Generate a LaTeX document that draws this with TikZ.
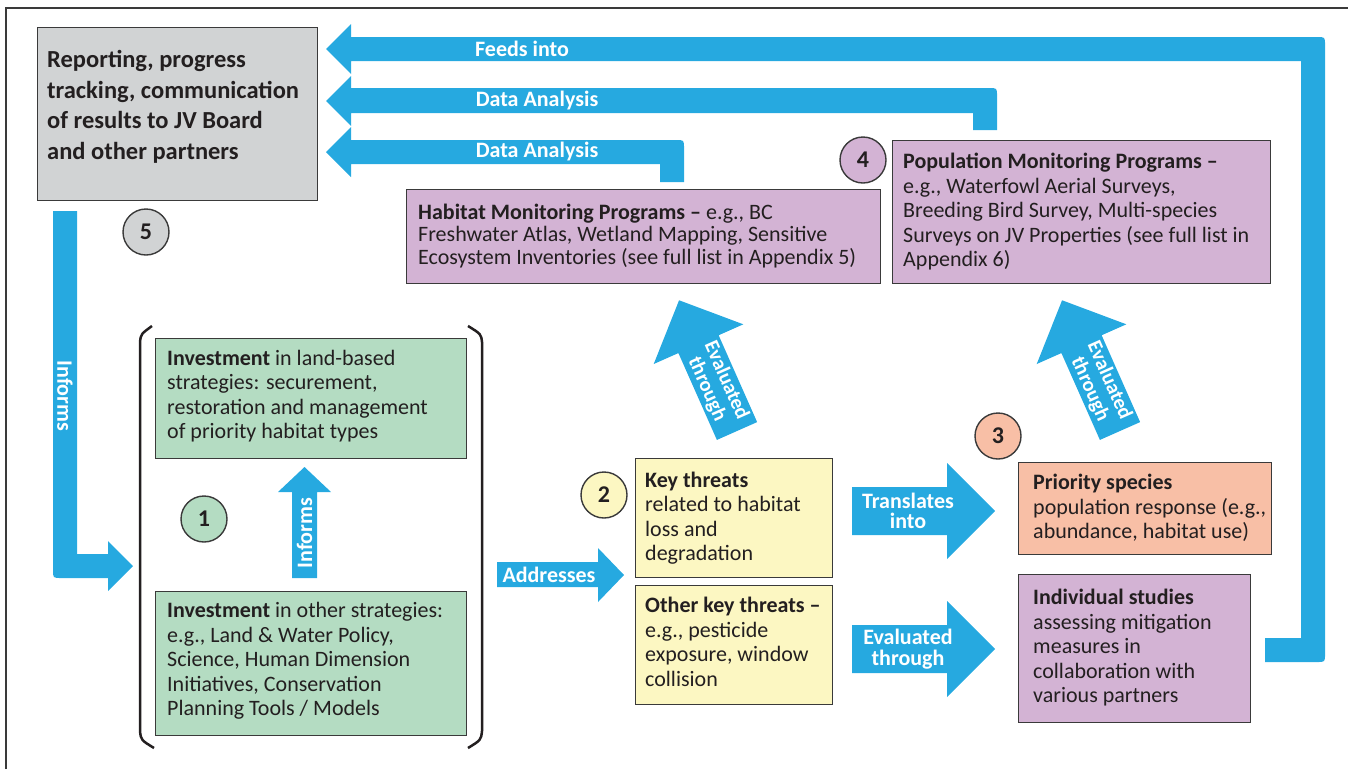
\documentclass[tikz,border=0pt]{standalone}
\usepackage{fontspec}
\setmainfont{Carlito}
\definecolor{ablue}{HTML}{26A9E0}
\definecolor{ink}{HTML}{231F20}
\definecolor{boxline}{HTML}{3A3A3A}
\definecolor{grayfill}{HTML}{D1D3D4}
\definecolor{greenfill}{HTML}{B4DCC2}
\definecolor{yellowfill}{HTML}{FCF7C2}
\definecolor{salmonfill}{HTML}{F8BFA6}
\definecolor{purplefill}{HTML}{D3B3D4}
\tikzset{
  box/.style={draw=boxline, line width=1.4pt, anchor=north west, inner sep=0pt},
  txt/.style={anchor=west, align=left, inner sep=0pt, text=ink, font=\fontsize{22}{24.5}\selectfont},
  num/.style={circle, draw=boxline, line width=1.4pt, minimum size=46pt, inner sep=0pt, text=ink, font=\bfseries\fontsize{24}{24}\selectfont},
  alabel/.style={text=white, align=center, inner sep=0pt, font=\bfseries\fontsize{22}{20.5}\selectfont},
  dlabel/.style={alabel, rotate=-66.1, font=\bfseries\fontsize{20.5}{21}\selectfont},
  blockarrow/.style={fill=ablue},
}
\begin{document}
\begin{tikzpicture}[x=1pt, y=-1pt]
\useasboundingbox (0,0) rectangle (1348,769);
% frame
\draw[line width=2pt, boxline] (6,769) -- (6,8) -- (1348,8);

% boxes
\node[box, fill=grayfill, minimum width=280pt, minimum height=173pt] (report) at (37,27) {};
\node[txt, font=\bfseries\fontsize{24.5}{30.5}\selectfont] (reporttxt) at (47,107) {Reporting, progress\\tracking, communication\\of results to JV Board\\and other partners};

\node[box, fill=purplefill, minimum width=474pt, minimum height=94pt] (habitat) at (406,189) {};
\node[txt, font=\fontsize{22}{22.8}\selectfont] (habitattxt) at (418,236) {\textbf{Habitat Monitoring Programs –} e.g., BC\\Freshwater Atlas, Wetland Mapping, Sensitive\\Ecosystem Inventories (see full list in Appendix 5)};

\node[box, fill=purplefill, minimum width=378pt, minimum height=143pt] (popul) at (892,140) {};
\node[txt] (popultxt) at (903,212) {\textbf{Population Monitoring Programs –}\\e.g., Waterfowl Aerial Surveys,\\Breeding Bird Survey, Multi-species\\Surveys on JV Properties (see full list in\\Appendix 6)};

\node[box, fill=greenfill, minimum width=311pt, minimum height=120pt] (land) at (155,338) {};
\node[txt] (landtxt) at (167,396) {\textbf{Investment} in land-based\\strategies: securement,\\restoration and management\\of priority habitat types};

\node[box, fill=greenfill, minimum width=311pt, minimum height=144pt] (otherinv) at (155,591) {};
\node[txt] (otherinvtxt) at (167,661) {\textbf{Investment} in other strategies:\\e.g., Land \& Water Policy,\\Science, Human Dimension\\Initiatives, Conservation\\Planning Tools / Models};

\node[box, fill=yellowfill, minimum width=197pt, minimum height=119pt] (key) at (635,458) {};
\node[txt] (keytxt) at (645,518) {\textbf{Key threats}\\related to habitat\\loss and\\degradation};

\node[box, fill=yellowfill, minimum width=197pt, minimum height=119pt] (otherkey) at (635,585) {};
\node[txt] (otherkeytxt) at (645,642) {\textbf{Other key threats –}\\e.g., pesticide\\exposure, window\\collision};

\node[box, fill=salmonfill, minimum width=253pt, minimum height=92pt] (priority) at (1018,462) {};
\node[txt] (prioritytxt) at (1033,508) {\textbf{Priority species}\\population response (e.g.,\\abundance, habitat use)};

\node[box, fill=purplefill, minimum width=232pt, minimum height=148pt] (indiv) at (1018,574) {};
\node[txt] (indivtxt) at (1033,648) {\textbf{Individual studies}\\assessing mitigation\\measures in\\collaboration with\\various partners};

% numbered circles
\node[num, fill=grayfill] (c5) at (146,232) {5};
\node[num, fill=purplefill] (c4) at (863,160) {4};
\node[num, fill=greenfill] (c1) at (204,519) {1};
\node[num, fill=yellowfill] (c2) at (604,495) {2};
\node[num, fill=salmonfill] (c3) at (998,436) {3};

% brackets
\draw[line width=2.5pt, ink] (152,326) .. controls (141,334) .. (140,342) -- (140,731) .. controls (141,740) .. (154,748);
\draw[line width=2.5pt, ink] (468,326) .. controls (481,334) .. (482,342) -- (482,731) .. controls (481,740) .. (468,748);

% top arrows
\fill[blockarrow] (326,49) -- (351,24) -- (351,37) -- (1317,37) .. controls (1325,37) .. (1325,45)
  -- (1325,654) .. controls (1325,662) .. (1317,662) -- (1265,662) -- (1265,638) -- (1301,638)
  -- (1301,61) -- (351,61) -- (351,74) -- cycle;
\node[alabel] (feeds) at (522,49) {Feeds into};

\fill[blockarrow] (326,101) -- (351,76) -- (351,88) -- (989,88) .. controls (997,88) .. (997,96)
  -- (997,130) -- (973,130) -- (973,113) -- (351,113) -- (351,126) -- cycle;
\node[alabel] (data1) at (537,101) {Data Analysis};

\fill[blockarrow] (326,152) -- (351,127) -- (351,140) -- (676,140) .. controls (684,140) .. (684,148)
  -- (684,182) -- (660,182) -- (660,164) -- (351,164) -- (351,177) -- cycle;
\node[alabel] (data2) at (537,152) {Data Analysis};

% left informs arrow
\fill[blockarrow] (53,211) -- (77,211) -- (77,554) -- (108,554) -- (108,541) -- (133,566)
  -- (108,591) -- (108,578) -- (61,578) .. controls (53,578) .. (53,570) -- cycle;
\node[alabel, rotate=-90] (informs1) at (65,396) {Informs};

% small informs arrow
\fill[blockarrow] (292,578) -- (292,492) -- (278,492) -- (304.5,467) -- (331,492) -- (317,492) -- (317,578) -- cycle;
\node[alabel, rotate=90] (informs2) at (304.5,533) {Informs};

% addresses
\fill[blockarrow] (497,562) -- (598,562) -- (598,548) -- (624,575) -- (598,602) -- (598,587) -- (497,587) -- cycle;
\node[alabel] (addr) at (549,575) {Addresses};

% translates into
\fill[blockarrow] (852,487) -- (947,487) -- (947,463) -- (995,511) -- (947,559) -- (947,535) -- (852,535) -- cycle;
\node[alabel] (transl) at (908,511) {Translates\\into};

% evaluated through (horizontal)
\fill[blockarrow] (852,625) -- (947,625) -- (947,601) -- (995,649) -- (947,697) -- (947,673) -- (852,673) -- cycle;
\node[alabel] (evalh) at (908,649) {Evaluated\\through};

% diagonal arrows
\begin{scope}[shift={(737,431)}, rotate=23.9]
\fill[blockarrow] (-22,0) -- (-22,-95) -- (-49,-95) -- (0,-143) -- (49,-95) -- (22,-95) -- (22,0) -- cycle;
\end{scope}
\node[dlabel] (evald1) at (716.5,385) {Evaluated\\through};

\begin{scope}[shift={(1120,431)}, rotate=23.9]
\fill[blockarrow] (-22,0) -- (-22,-95) -- (-49,-95) -- (0,-143) -- (49,-95) -- (22,-95) -- (22,0) -- cycle;
\end{scope}
\node[dlabel] (evald2) at (1099.5,385) {Evaluated\\through};
\end{tikzpicture}
\end{document}
